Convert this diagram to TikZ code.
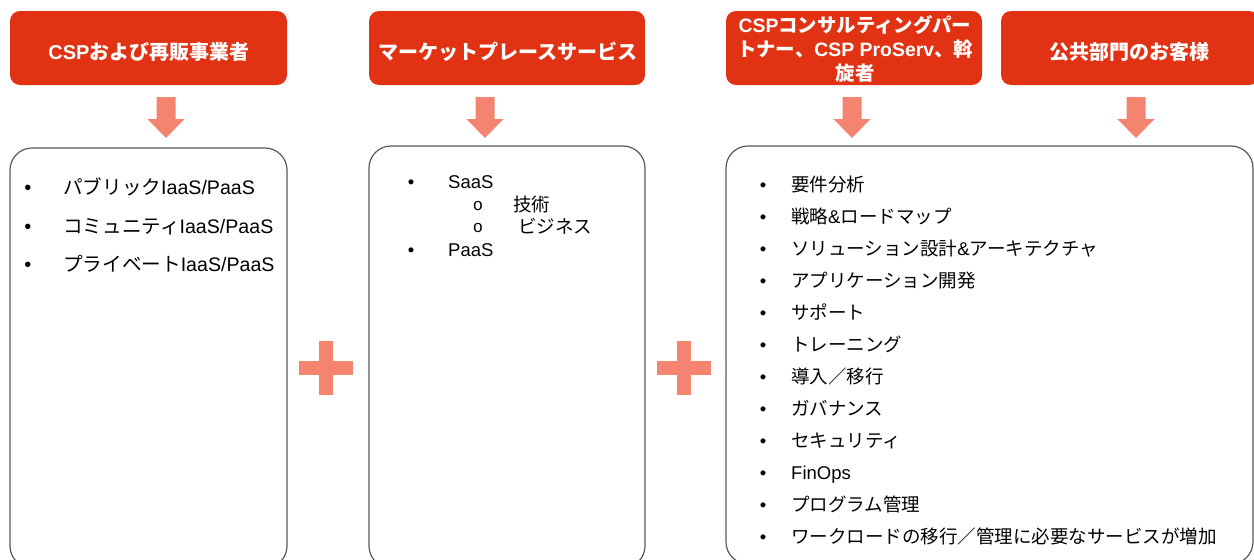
\documentclass[tikz,border=0pt]{standalone}
\usepackage{fontspec}
\setmainfont{Noto Sans CJK JP}
\newfontfamily\lat{Liberation Sans}
\newfontfamily\mono{Liberation Mono}
\definecolor{hdrred}{HTML}{E23214}
\definecolor{salmon}{HTML}{F48370}
\definecolor{edgegray}{HTML}{595959}
\begin{document}
\begin{tikzpicture}[x=1pt,y=-1pt,
  hbox/.style={fill=hdrred, draw=none, rounded corners=10pt, inner sep=0pt},
  htext/.style={text=white, font=\bfseries\fontsize{20}{24}\selectfont, align=center, inner sep=0pt},
  panel/.style={draw=edgegray, line width=1.2pt, rounded corners=22pt, inner sep=0pt},
  item/.style={anchor=base west, inner sep=0pt, font=\fontsize{18.5}{22}\selectfont},
  bigitem/.style={anchor=base west, inner sep=0pt, font=\fontsize{19.6}{24}\selectfont},
  bul/.style={anchor=base, inner sep=0pt, font=\lat\fontsize{18.5}{22}\selectfont},
  subbul/.style={anchor=base, inner sep=0pt, font=\mono\fontsize{17}{22}\selectfont},
  downarr/.pic={\fill[salmon] (-9.5,-22) -- (9.5,-22) -- (9.5,0) -- (18.5,0) -- (0,19) -- (-18.5,0) -- (-9.5,0) -- cycle;},
  plussign/.pic={\fill[salmon] (-6.75,-27) rectangle (6.75,27); \fill[salmon] (-27,-6.75) rectangle (27,6.75);}
]
\useasboundingbox (0,0) rectangle (1254,560);
\fill[white] (0,0) rectangle (1254,560);

% header boxes
\node[hbox, minimum width=277pt, minimum height=74pt] (h1) at (148.5,48) {};
\node[hbox, minimum width=276pt, minimum height=74pt] (h2) at (507,48) {};
\node[hbox, minimum width=256pt, minimum height=74pt] (h3) at (854,48) {};
\node[hbox, minimum width=258pt, minimum height=74pt] (h4) at (1130,48) {};

\node[htext] (h1t) at (149,52) {{\lat CSP}および再販事業者};
\node[htext] (h2t) at (508,52) {マーケットプレースサービス};
\node[htext, font=\bfseries\fontsize{19.4}{24}\selectfont] (h3t) at (855,48.5) {{\lat CSP}コンサルティングパー\\トナー、{\lat CSP ProServ}、斡\\旋者};
\node[htext] (h4t) at (1129,52) {公共部門のお客様};

% arrows
\pic at (166,119) {downarr};
\pic at (485,119) {downarr};
\pic at (852,119) {downarr};
\pic at (1136,119) {downarr};

% panels
\node[panel, minimum width=277pt, minimum height=420pt] (p1) at (148.5,358) {};
\node[panel, minimum width=276pt, minimum height=422pt] (p2) at (507,357) {};
\node[panel, minimum width=527pt, minimum height=418pt] (p3) at (989.5,355) {};

% plus signs
\pic at (326,368) {plussign};
\pic at (684,368) {plussign};

% panel 1 items
\node[bul, font=\lat\fontsize{20}{24}\selectfont] (b1a) at (28,194.4) {•};
\node[bigitem] (t1a) at (63,194.4) {パブリック{\lat IaaS/PaaS}};
\node[bul, font=\lat\fontsize{20}{24}\selectfont] (b1b) at (28,233.4) {•};
\node[bigitem] (t1b) at (63,233.4) {コミュニティ{\lat IaaS/PaaS}};
\node[bul, font=\lat\fontsize{20}{24}\selectfont] (b1c) at (28,271.4) {•};
\node[bigitem] (t1c) at (63,271.4) {プライベート{\lat IaaS/PaaS}};

% panel 2 items
\node[bul] (b2a) at (411,188.8) {•};
\node[item] (t2a) at (448,188.8) {\lat SaaS};
\node[subbul] (b2b) at (478,210.8) {o};
\node[item] (t2b) at (513,211.8) {技術};
\node[subbul] (b2c) at (478,232.8) {o};
\node[item] (t2c) at (518,233.8) {ビジネス};
\node[bul] (b2d) at (411,256.8) {•};
\node[item] (t2d) at (448,256.8) {\lat PaaS};

% panel 3 items
\foreach \txt [count=\i from 0] in {要件分析, 戦略{\lat\&}ロードマップ, ソリューション設計{\lat\&}アーキテクチャ, アプリケーション開発, サポート, トレーニング, 導入／移行, ガバナンス, セキュリティ, {\lat FinOps}, プログラム管理, ワークロードの移行／管理に必要なサービスが増加}{
  \node[bul] (b3\i) at (763,{191.8+32*\i}) {•};
  \node[item] (t3\i) at (791,{191.8+32*\i}) {\txt};
}
\end{tikzpicture}
\end{document}
